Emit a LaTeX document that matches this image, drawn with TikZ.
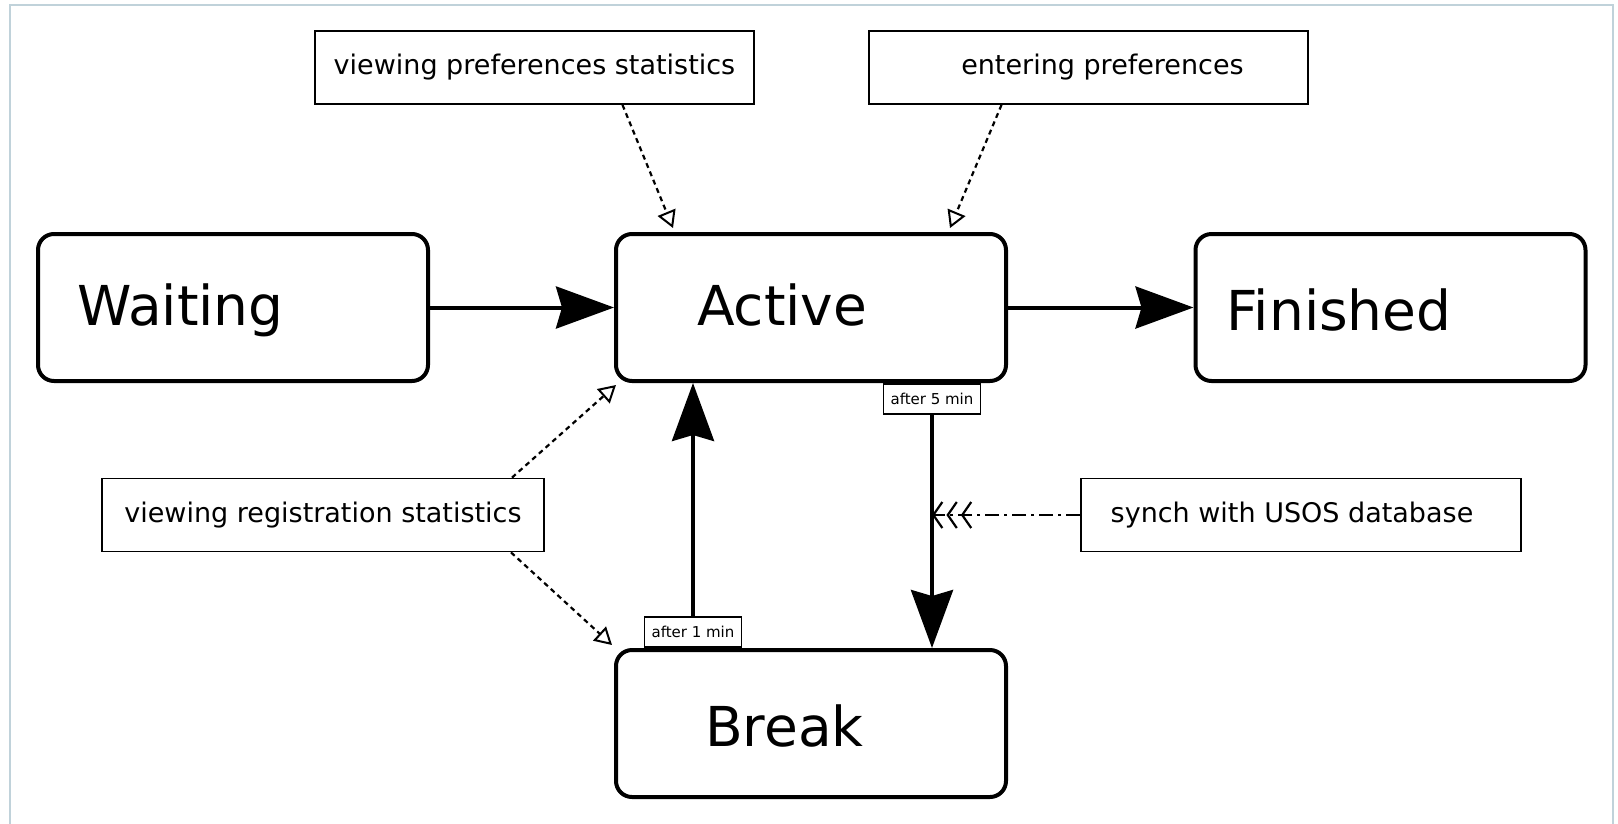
\documentclass[tikz,border=0pt]{standalone}
\usepackage{fontspec}
\setmainfont{DejaVu Sans}
\usetikzlibrary{arrows.meta,calc}
\definecolor{framecol}{RGB}{192,210,218}
\tikzset{
 statebox/.style={draw, line width=4pt, rounded corners=16pt, minimum width=390pt, minimum height=147pt, inner sep=0pt},
 statetxt/.style={anchor=base west, font=\fontsize{55}{60}\selectfont, inner sep=0pt},
 notebox/.style={draw, line width=1.8pt, minimum width=439pt, minimum height=73pt, font=\fontsize{27}{32}\selectfont, inner sep=0pt},
 tagbox/.style={draw, fill=white, line width=1.8pt, font=\fontsize{15}{18}\selectfont, minimum height=30pt, inner ysep=0pt, inner xsep=7pt},
 mainarrow/.style={line width=4pt, -{Stealth[length=58pt,width=42pt,inset=6pt]}},
 depends/.style={line width=2.2pt, dash pattern=on 5pt off 4pt, -{Triangle[open,length=17pt,width=19pt,line width=2pt]}},
 syncline/.style={line width=2.2pt, dash pattern=on 14pt off 5pt on 3pt off 5pt,
   -{Straight Barb[length=9pt,width=26pt,sep=3pt] Straight Barb[length=9pt,width=26pt,sep=3pt] Straight Barb[length=9pt,width=26pt]}},
}
\begin{document}
\begin{tikzpicture}[x=1pt,y=-1pt]
\useasboundingbox (0,0) rectangle (1618,823);
\draw[framecol, line width=2pt] (10,5) rectangle (1613,840);

% state boxes
\node[statebox] (waiting) at (233,307.5) {};
\node[statebox] (active) at (811,307.5) {};
\node[statebox] (finished) at (1390.5,307.5) {};
\node[statebox] (break) at (811,723.5) {};
\node[statetxt] (waitingtxt) at (77,325) {Waiting};
\node[statetxt] (activetxt) at (697,325) {Active};
\node[statetxt] (finishedtxt) at (1226,330) {Finished};
\node[statetxt] (breaktxt) at (705,746) {Break};

% note boxes
\node[notebox] (prefstats) at (534.5,67.5) {viewing preferences statistics};
\node[notebox] (entering) at (1088.5,67.5) {\hspace*{28pt}entering preferences};
\node[notebox, minimum width=442pt] (regstats) at (323,515) {viewing registration statistics};
\node[notebox, minimum width=440pt] (synch) at (1301,515) {synch with USOS database\hspace*{18pt}};

% tags
\node[tagbox, anchor=north] (lbl5) at (932,383) {after 5 min};
\node[tagbox, anchor=south] (lbl1) at (693,648) {after 1 min};

% main transitions
\draw[mainarrow] (waiting) -- (active);
\draw[mainarrow] (active) -- (finished);
\draw[mainarrow] (lbl5.south) -- (break.north -| lbl5.south);
\draw[mainarrow] (lbl1.north) -- (active.south -| lbl1.north);

% sync
\draw[syncline] (synch.west) -- (synch.west -| lbl5.south);

% dependencies
\draw[depends] ($(prefstats.south)+(88,0)$) -- ($(active.north west)+(59,-4)$);
\draw[depends] ($(entering.south)+(-87,0)$) -- ($(active.north east)+(-58,-4)$);
\draw[depends] ($(regstats.north)+(189,0)$) -- ($(active.south west)+(2,2)$);
\draw[depends] ($(regstats.south)+(188,0)$) -- ($(break.north west)+(-2,-3)$);
\end{tikzpicture}
\end{document}
